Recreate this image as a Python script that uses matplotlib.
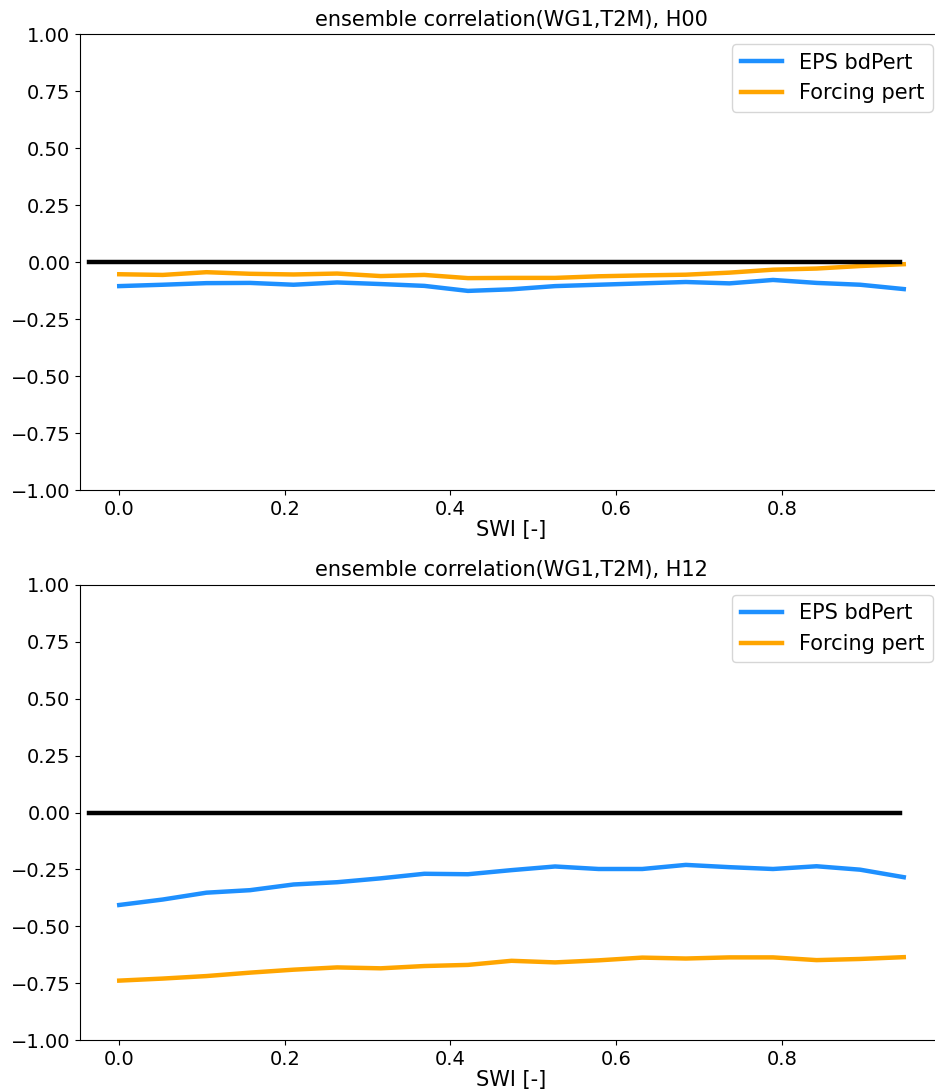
import matplotlib
matplotlib.use("Agg")
import matplotlib.pyplot as plt

swi = [0.0, 0.0526, 0.1053, 0.1579, 0.2105, 0.2632, 0.3158, 0.3684, 0.4211,
       0.4737, 0.5263, 0.5789, 0.6316, 0.6842, 0.7368, 0.7895, 0.8421,
       0.8947, 0.9474]

h00_eps = [-0.105, -0.099, -0.092, -0.091, -0.099, -0.089, -0.096, -0.104, -0.126,
           -0.119, -0.105, -0.099, -0.093, -0.087, -0.093, -0.078, -0.091, -0.099, -0.118]
h00_forc = [-0.053, -0.056, -0.044, -0.051, -0.054, -0.050, -0.061, -0.056, -0.070,
            -0.069, -0.069, -0.062, -0.058, -0.055, -0.046, -0.033, -0.028, -0.017, -0.009]

h12_eps = [-0.406, -0.382, -0.352, -0.341, -0.316, -0.306, -0.289, -0.269, -0.271,
           -0.253, -0.237, -0.248, -0.248, -0.230, -0.240, -0.248, -0.236, -0.251, -0.284]
h12_forc = [-0.738, -0.729, -0.718, -0.703, -0.690, -0.680, -0.684, -0.674, -0.669,
            -0.651, -0.658, -0.649, -0.637, -0.641, -0.636, -0.636, -0.648, -0.643, -0.635]

titles = ["ensemble correlation(WG1,T2M), H00", "ensemble correlation(WG1,T2M), H12"]
labels = ["EPS bdPert", "Forcing pert"]
colors = ["#1E90FF", "#FFA500"]

plt.rcParams['font.size'] = 14
W, H = 935, 1091
fig = plt.figure(figsize=(W / 100, H / 100), dpi=100)

boxes = [(80, 34, 943, 490.3), (80, 584.7, 943, 1040.3)]
series = [(h00_eps, h00_forc), (h12_eps, h12_forc)]

for (x0, y0, x1, y1), title, (eps, forc) in zip(boxes, titles, series):
    ax = fig.add_axes([x0 / W, 1 - y1 / H, (x1 - x0) / W, (y1 - y0) / H])
    ax.plot(swi, eps, color=colors[0], lw=3.2, label=labels[0])
    ax.plot(swi, forc, color=colors[1], lw=3.2, label=labels[1])
    ax.axhline(0, xmin=0.01, xmax=0.95, color='black', lw=3.2)
    ax.set_ylim(-1, 1)
    ax.set_yticks([-1.0, -0.75, -0.5, -0.25, 0.0, 0.25, 0.5, 0.75, 1.0])
    ax.set_xticks([0.0, 0.2, 0.4, 0.6, 0.8])
    ax.set_title(title, fontsize=15)
    ax.set_xlabel("SWI [-]", fontsize=15, labelpad=1)
    ax.legend(loc='upper right', fontsize=15)

fig.savefig("out.png", dpi=100)
